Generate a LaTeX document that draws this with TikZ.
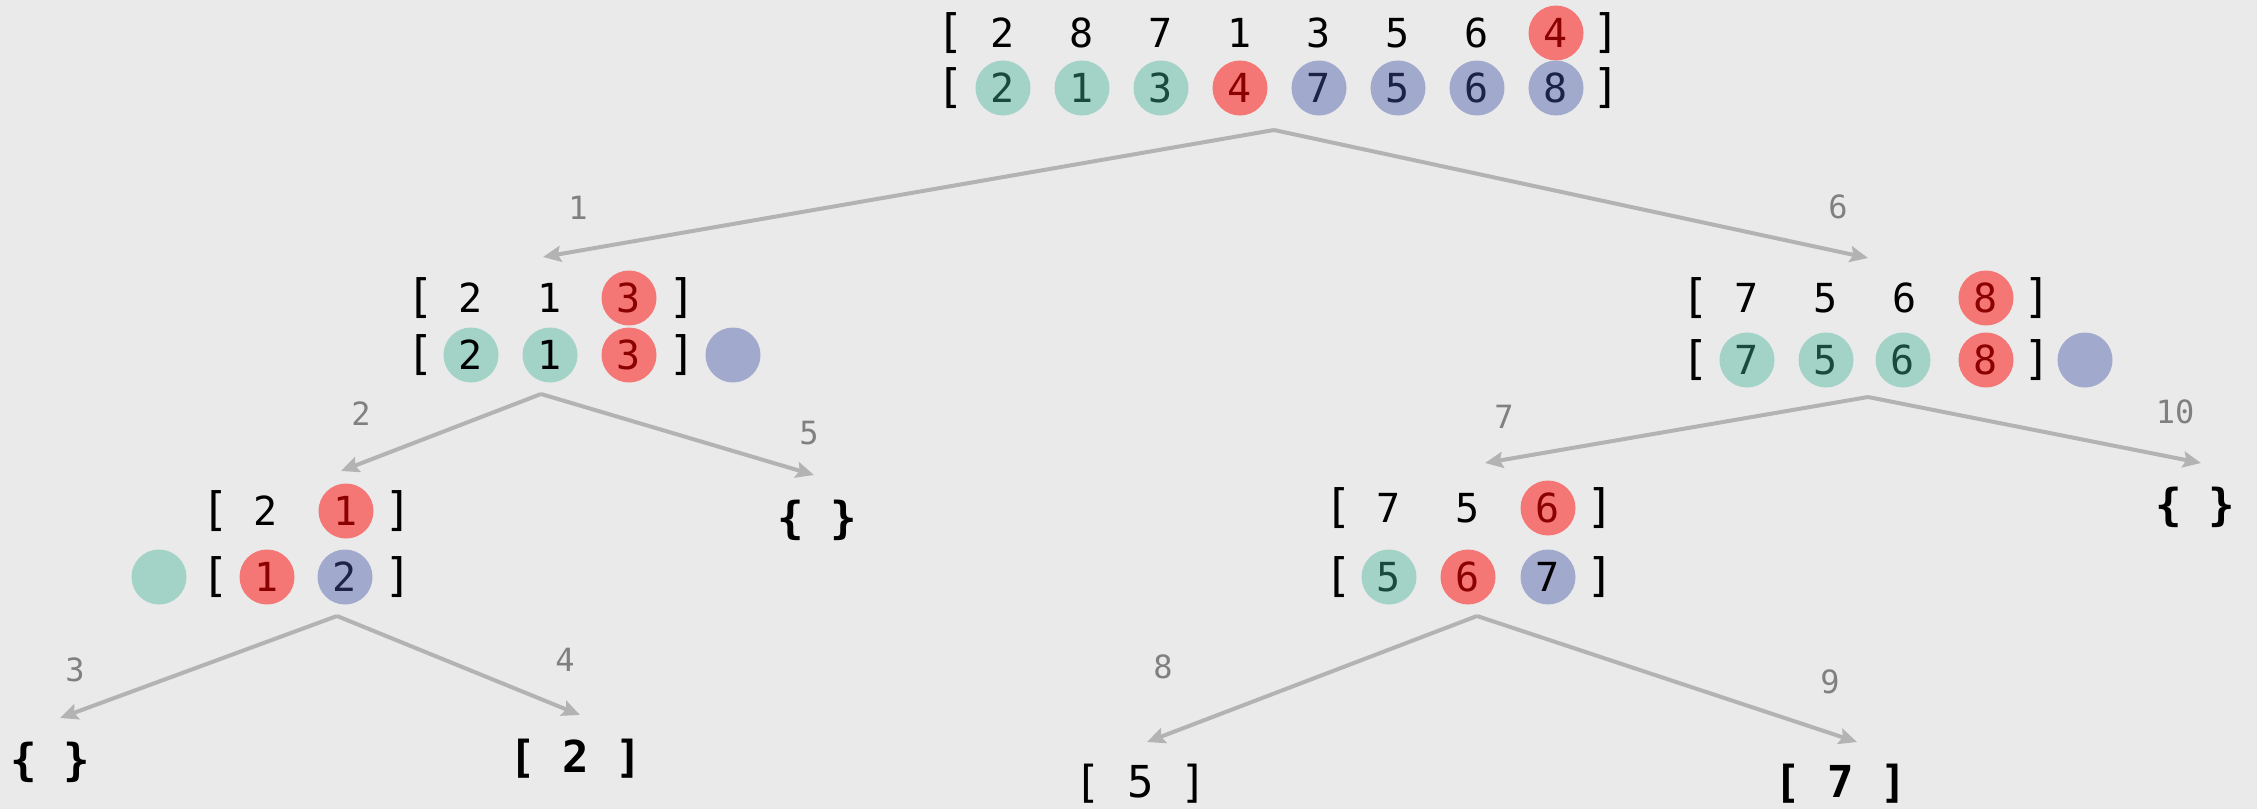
\documentclass[tikz,border=0pt]{standalone}
\usepackage{fontspec}
\setmonofont{DejaVu Sans Mono}
\usetikzlibrary{arrows.meta}
\definecolor{qsbg}{HTML}{EAEAEA}
\definecolor{qsink}{HTML}{000000}
\definecolor{qsgrey}{HTML}{B3B3B3}
\definecolor{qslabel}{HTML}{808080}
\definecolor{qslow}{HTML}{A3D3C6}
\definecolor{qslowtext}{HTML}{1B4A3C}
\definecolor{qspivot}{HTML}{F47775}
\definecolor{qspivottext}{HTML}{8B0000}
\definecolor{qshigh}{HTML}{A1A9CC}
\definecolor{qshightext}{HTML}{1C2248}
\tikzset{
  qs num/.style={font=\ttfamily\fontsize{20}{20}\selectfont, text=qsink, inner sep=0pt},
  qs bracket/.style={font=\ttfamily\fontsize{23}{23}\selectfont, text=qsink, inner sep=0pt},
  qs ball/.style={qs num, circle, minimum size=27.5pt, fill=qs#1, text=qs#1text},
  qs leaf/.style={font=\ttfamily\fontsize{22}{22}\selectfont, text=qsink, inner sep=0pt},
  qs bold leaf/.style={qs leaf, font=\ttfamily\bfseries\fontsize{22}{22}\selectfont},
  qs edge/.style={-{Stealth[length=9pt,width=8pt,inset=1.5pt]}, line width=2pt,
    draw=qsgrey},
  qs order/.style={font=\ttfamily\fontsize{16}{16}\selectfont, text=qslabel, inner sep=0pt}
}

\begin{document}
\begin{tikzpicture}[x=0.5pt, y=-0.5pt]
  \fill[qsbg] (0,0) rectangle (2257,809);
  \useasboundingbox (0,0) rectangle (2257,809);
  % root
  \node[qs bracket] (r-o1) at (950,33) {[};
  \foreach \v [count=\i] in {2,8,7,1,3,5,6}
    \node[qs num] (r-a\i) at (924+79*\i,33) {\v};
  \node[qs ball=pivot] (r-a8) at (1556,33) {4};
  \node[qs bracket] (r-c1) at (1606,33) {]};
  \node[qs bracket] (r-o2) at (950,88) {[};
  \foreach \v/\s [count=\i] in {2/low,1/low,3/low,4/pivot,7/high,5/high,6/high,8/high}
    \node[qs ball=\s] (r-b\i) at (924+79*\i,88) {\v};
  \node[qs bracket] (r-c2) at (1606,88) {]};
  % left part
  \node[qs bracket] (a-o1) at (420,298) {[};
  \node[qs num] (a-a1) at (471,298) {2};
  \node[qs num] (a-a2) at (550,298) {1};
  \node[qs ball=pivot] (a-a3) at (629,298) {3};
  \node[qs bracket] (a-c1) at (682,298) {]};
  \node[qs bracket] (a-o2) at (420,355) {[};
  \node[qs ball=low, text=qsink] (a-b1) at (471,355) {2};
  \node[qs ball=low, text=qsink] (a-b2) at (550,355) {1};
  \node[qs ball=pivot] (a-b3) at (629,355) {3};
  \node[qs bracket] (a-c2) at (682,355) {]};
  \node[qs ball=high] (a-hi) at (733,355) {};
  % right part
  \node[qs bracket] (b-o1) at (1695,298) {[};
  \node[qs num] (b-a1) at (1747,298) {7};
  \node[qs num] (b-a2) at (1826,298) {5};
  \node[qs num] (b-a3) at (1905,298) {6};
  \node[qs ball=pivot] (b-a4) at (1986,298) {8};
  \node[qs bracket] (b-c1) at (2037,298) {]};
  \node[qs bracket] (b-o2) at (1695,360) {[};
  \node[qs ball=low] (b-b1) at (1747,360) {7};
  \node[qs ball=low] (b-b2) at (1826,360) {5};
  \node[qs ball=low] (b-b3) at (1903,360) {6};
  \node[qs ball=pivot] (b-b4) at (1986,360) {8};
  \node[qs bracket] (b-c2) at (2037,360) {]};
  \node[qs ball=high] (b-hi) at (2085,360) {};
  % left-left part
  \node[qs bracket] (c-o1) at (215,511) {[};
  \node[qs num] (c-a1) at (266,511) {2};
  \node[qs ball=pivot] (c-a2) at (346,511) {1};
  \node[qs bracket] (c-c1) at (398,511) {]};
  \node[qs ball=low] (c-lo) at (159,577) {};
  \node[qs bracket] (c-o2) at (215,577) {[};
  \node[qs ball=pivot] (c-b1) at (267,577) {1};
  \node[qs ball=high] (c-b2) at (345,577) {2};
  \node[qs bracket] (c-c2) at (398,577) {]};
  % right-left part
  \node[qs bracket] (d-o1) at (1338,508) {[};
  \node[qs num] (d-a1) at (1389,508) {7};
  \node[qs num] (d-a2) at (1468,508) {5};
  \node[qs ball=pivot] (d-a3) at (1548,508) {6};
  \node[qs bracket] (d-c1) at (1600,508) {]};
  \node[qs bracket] (d-o2) at (1338,577) {[};
  \node[qs ball=low] (d-b1) at (1389,577) {5};
  \node[qs ball=pivot] (d-b2) at (1468,577) {6};
  \node[qs ball=high, text=qsink] (d-b3) at (1548,577) {7};
  \node[qs bracket] (d-c2) at (1600,577) {]};
  % leaves
  \node[qs bold leaf] (c-l) at (50,762) {\{ \}};
  \node[qs bold leaf] (c-r) at (576,759) {[ 2 ]};
  \node[qs bold leaf] (a-r) at (817,520) {\{ \}};
  \node[qs leaf] (d-l) at (1141,784) {[ 5 ]};
  \node[qs bold leaf] (d-r) at (1841,784) {[ 7 ]};
  \node[qs bold leaf] (b-r) at (2195,507) {\{ \}};
  % arrow ends
  \coordinate (r-out) at (1274,130);
  \coordinate (a-in) at (543,257);
  \coordinate (b-in) at (1868,258);
  \coordinate (a-out) at (541,394);
  \coordinate (c-in) at (341,471);
  \coordinate (a-r-in) at (814,475);
  \coordinate (c-out) at (337,616);
  \coordinate (c-l-in) at (60,718);
  \coordinate (c-r-in) at (580,715);
  \coordinate (b-out) at (1868,397);
  \coordinate (d-in) at (1485,463);
  \coordinate (b-r-in) at (2201,463);
  \coordinate (d-out) at (1477,616);
  \coordinate (d-l-in) at (1147,742);
  \coordinate (d-r-in) at (1857,742);
  \draw[qs edge] (r-out) -- (a-in);
  \draw[qs edge] (r-out) -- (b-in);
  \draw[qs edge] (a-out) -- (c-in);
  \draw[qs edge] (a-out) -- (a-r-in);
  \draw[qs edge] (c-out) -- (c-l-in);
  \draw[qs edge] (c-out) -- (c-r-in);
  \draw[qs edge] (b-out) -- (d-in);
  \draw[qs edge] (b-out) -- (b-r-in);
  \draw[qs edge] (d-out) -- (d-l-in);
  \draw[qs edge] (d-out) -- (d-r-in);
  % order of the calls
  \node[qs order] (n1) at (578,208) {1};
  \node[qs order] (n2) at (361,414) {2};
  \node[qs order] (n3) at (75,670) {3};
  \node[qs order] (n4) at (565,660) {4};
  \node[qs order] (n5) at (809,433) {5};
  \node[qs order] (n6) at (1838,207) {6};
  \node[qs order] (n7) at (1504,417) {7};
  \node[qs order] (n8) at (1163,667) {8};
  \node[qs order] (n9) at (1830,682) {9};
  \node[qs order] (n10) at (2175,412) {10};
\end{tikzpicture}
\end{document}
